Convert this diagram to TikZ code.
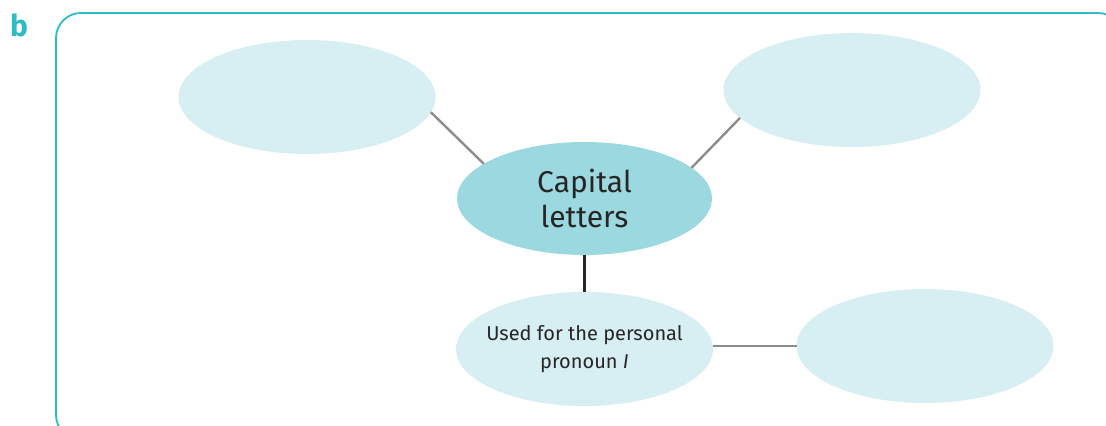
\documentclass[tikz,border=0pt]{standalone}
\usepackage{fontspec}
\setmainfont{Fira Sans}
\usetikzlibrary{positioning, shapes.geometric}

\definecolor{framecol}{HTML}{2BBCC6}
\definecolor{hubfill}{HTML}{9CD8E0}
\definecolor{blobfill}{HTML}{D7EEF2}
\definecolor{spokegray}{HTML}{8C8C8C}

\begin{document}
\begin{tikzpicture}[
            x=0.5pt, y=-0.5pt,
            hub/.style={ellipse, fill=hubfill, minimum width=127.5pt, minimum height=56.5pt,
                        inner sep=0pt, outer sep=0pt, align=center, text=black!85,
                        font=\fontsize{15}{17.5}\selectfont},
            blob/.style={ellipse, fill=blobfill, minimum width=128.5pt, minimum height=57pt,
                         inner xsep=-8pt, inner ysep=0pt, outer sep=0pt, align=center, text=black!85,
                         font=\fontsize{10}{14}\selectfont},
            spoke/.style={draw=spokegray, line width=1.2pt},
            stem/.style={draw=black!85, line width=1.4pt}
        ]

            \useasboundingbox (0,0) rectangle (1106,426);

            % Frame and part letter
            \draw[framecol, line width=0.9pt, rounded corners=12.5pt] (56,13) rectangle (1123,440);
            \node[font=\fontsize{15}{15}\selectfont\bfseries, text=framecol] (part) at (19,25) {b};

            % Central idea
            \node[hub] (cap) at (584.5,198.5) {Capital\\letters};

            % Branches
            \node[blob] (tl) at (307,97) {};
            \node[blob] (tr) at (852,90) {};
            \node[blob, below=18.5pt of cap] (use) {Used for the personal\\pronoun \textit{I}};
            \node[blob] (br) at (925,346) {};

            % Links
            \draw[spoke] (tl.-7) -- (cap.161);
            \draw[spoke] (tr.194) -- (cap.16);
            \draw[stem] (cap) -- (use);
            \draw[spoke] (use.east |- br.west) -- (br.west);

        \end{tikzpicture}
\end{document}
